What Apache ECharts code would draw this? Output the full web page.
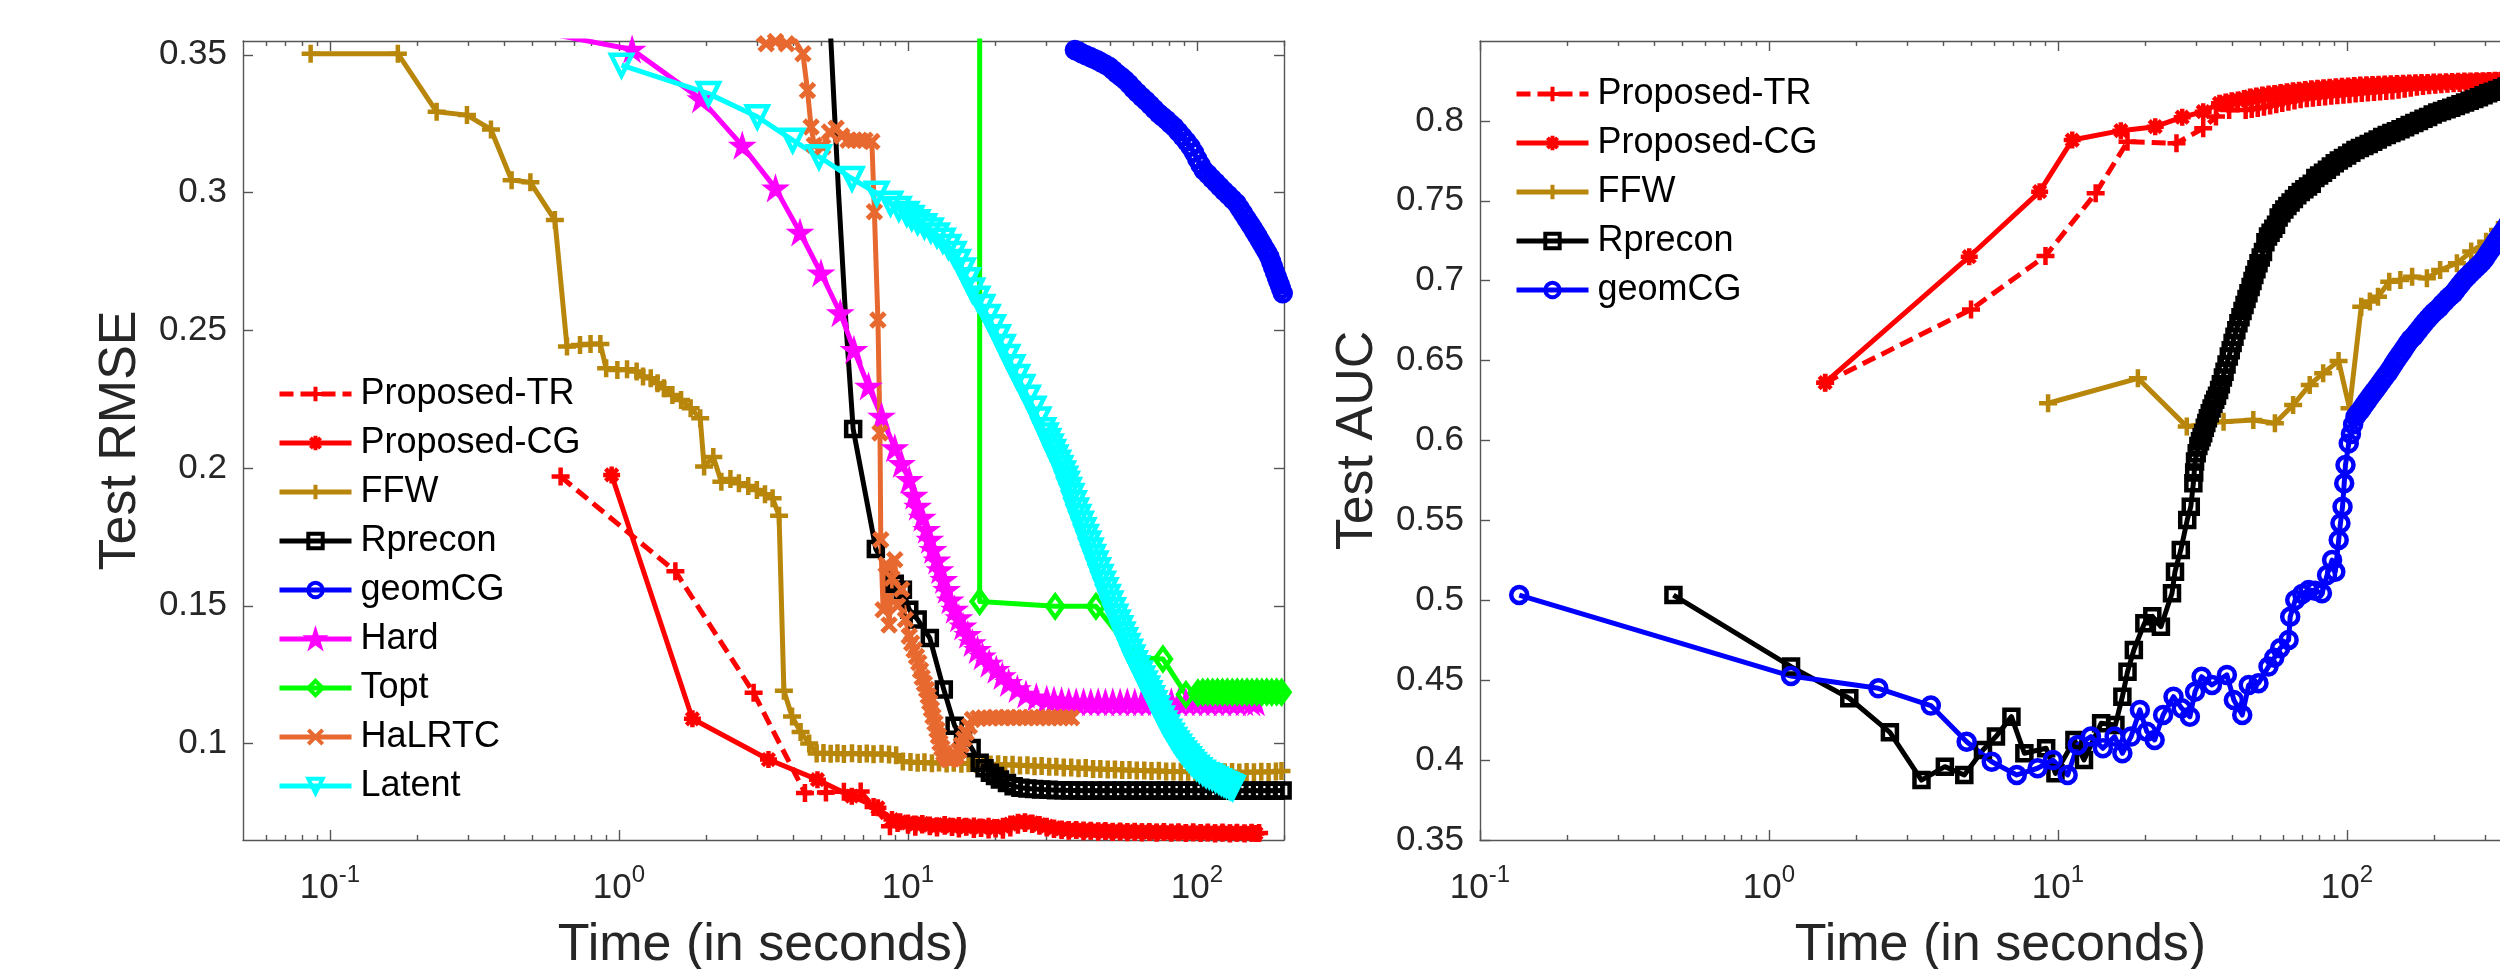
<!DOCTYPE html>
<html><head><meta charset="utf-8">
<script src="https://cdn.jsdelivr.net/npm/echarts@6/dist/echarts.min.js"></script>
<style>html,body{margin:0;padding:0;background:#fff;}#c{width:2500px;height:969px;}</style>
</head><body><div id="c"></div>
<script>
// ---------- tick values ----------
const X_MAJOR = [0.1, 1, 10, 100];
const X_MINOR_L = [0.06,0.07,0.08,0.09,0.2,0.3,0.4,0.5,0.6,0.7,0.8,0.9,2,3,4,5,6,7,8,9,20,30,40,50,60,70,80,90,200];
const X_MINOR_R = [0.2,0.3,0.4,0.5,0.6,0.7,0.8,0.9,2,3,4,5,6,7,8,9,20,30,40,50,60,70,80,90,200,300,400];
const Y_TICKS_L = [0.1,0.15,0.2,0.25,0.3,0.35];
const Y_TICKS_R = [0.35,0.4,0.45,0.5,0.55,0.6,0.65,0.7,0.75,0.8];
const NAMES_L = ['Proposed-TR','Proposed-CG','FFW','Rprecon','geomCG','Hard','Topt','HaLRTC','Latent'];
const NAMES_R = ['Proposed-TR','Proposed-CG','FFW','Rprecon','geomCG'];

// ---------- left plot: Test RMSE ([time, value]; third element 0 = no marker) ----------
const L_TR = [[0.628,0.1969],[1.567,0.1625],[2.923,0.1184],[4.40,0.0821],[5.2,0.0822],[6.0,0.0825],[6.86,0.0826],[7.6,0.0770],[8.66,0.0700],[9.2,0.0712],[10,0.0705],[10.6,0.0698],[11.2,0.0706],[11.9,0.0700],[12.6,0.0695],[13.4,0.0702],[14.2,0.0697],[15,0.0692],[15.9,0.0698],[16.9,0.0690],[17.9,0.0694],[19,0.0688],[20.1,0.0692],[21.3,0.0687],[22.6,0.0695],[24,0.0705],[25.4,0.0712],[26.9,0.0708],[28.5,0.0702],[30.2,0.0695],[32,0.0690],[34,0.0686],[36,0.0684],[38.2,0.0686],[40.5,0.0682],[42.9,0.0684],[45.5,0.0680],[48.2,0.0683],[51.1,0.0679],[54.2,0.0681],[57.4,0.0678],[60.9,0.0680],[64.5,0.0677],[68.4,0.0679],[72.5,0.0676],[76.8,0.0679],[81.5,0.0676],[86.3,0.0678],[91.5,0.0675],[97,0.0678],[103,0.0675],[109,0.0677],[115.5,0.0674],[122.5,0.0677],[130,0.0674],[137.5,0.0676],[146,0.0674],[154.5,0.0676],[164,0.0675]];
const L_CG = [[0.943,0.1975],[1.795,0.1090],[3.29,0.0942],[4.86,0.0869],[6.39,0.0809],[7.87,0.0767],[8.8,0.0724],[9.4,0.0716],[10,0.0712],[10.6,0.0708],[11.2,0.0710],[11.9,0.0704],[12.6,0.0702],[13.4,0.0706],[14.2,0.0700],[15,0.0703],[15.9,0.0698],[16.9,0.0701],[17.9,0.0697],[19,0.0700],[20.1,0.0695],[21.3,0.0700],[22.6,0.0708],[24,0.0714],[25.4,0.0716],[26.9,0.0712],[28.5,0.0706],[30.2,0.0700],[32,0.0694],[34,0.0690],[36,0.0688],[38.2,0.0685],[40.5,0.0686],[42.9,0.0683],[45.5,0.0684],[48.2,0.0681],[51.1,0.0682],[54.2,0.0680],[57.4,0.0681],[60.9,0.0679],[64.5,0.0680],[68.4,0.0678],[72.5,0.0679],[76.8,0.0677],[81.5,0.0678],[86.3,0.0677],[91.5,0.0677],[97,0.0676],[103,0.0677],[109,0.0676],[115.5,0.0676],[122.5,0.0675],[130,0.0676],[137.5,0.0675],[146,0.0675],[154.5,0.0675],[160,0.0674]];
const L_FFW = [[0.0857,0.3504],[0.1717,0.3504],[0.2339,0.3293],[0.2978,0.3281],[0.3605,0.3229],[0.425,0.3045],[0.4936,0.3037],[0.600,0.2900],[0.6607,0.2441],[0.733,0.2447],[0.797,0.2450],[0.862,0.2450],[0.9026,0.2362],[0.987,0.2356],[1.066,0.2359],[1.151,0.2350],[1.211,0.2332],[1.288,0.2326],[1.36,0.2308],[1.43,0.2290],[1.53,0.2265],[1.64,0.2247],[1.77,0.2217],[1.91,0.2181],[1.97,0.2006],[2.12,0.2040],[2.26,0.1950],[2.43,0.1960],[2.6,0.1945],[2.8,0.1935],[3.0,0.1920],[3.2,0.1905],[3.4,0.1890],[3.58,0.1827],[3.72,0.1192],[3.97,0.1098],[4.25,0.1042],[4.55,0.1000],[4.83,0.0964],[5.1,0.0966],[5.4,0.0963],[5.7,0.0965],[6.0,0.0962],[6.4,0.0965],[6.8,0.0962],[7.2,0.0964],[7.6,0.0961],[8.1,0.0963],[8.6,0.0960],[9.1,0.0958],[9.6,0.0935],[10.2,0.0933],[10.8,0.0930],[11.4,0.0932],[12.1,0.0929],[12.8,0.0931],[13.6,0.0928],[14.4,0.0930],[15.3,0.0927],[16.2,0.0929],[17.2,0.0926],[18.2,0.0927],[19.3,0.0924],[20.5,0.0925],[21.7,0.0922],[23,0.0923],[24.4,0.0920],[25.9,0.0921],[27.4,0.0918],[29,0.0919],[30.8,0.0916],[32.6,0.0916],[34.6,0.0913],[36.7,0.0913],[38.9,0.0910],[41.2,0.0911],[43.7,0.0908],[46.3,0.0908],[49.1,0.0906],[52,0.0906],[55.1,0.0904],[58.4,0.0904],[61.9,0.0902],[65.7,0.0902],[69.6,0.0900],[73.8,0.0901],[78.2,0.0899],[82.9,0.0899],[87.9,0.0898],[93.2,0.0898],[98.8,0.0897],[104.7,0.0898],[111,0.0896],[117.6,0.0897],[124.7,0.0896],[132.2,0.0897],[140.1,0.0895],[148.5,0.0897],[157.4,0.0896],[166.9,0.0898],[176.9,0.0897],[187.5,0.0899],[196,0.0900]];
const L_RP = [[5.2,0.42,0],[5.41,0.355,0],[5.75,0.30,0],[6.12,0.25,0],[6.46,0.2142],[7.74,0.1706],[9.0,0.1580],[9.6,0.1558],[10.1,0.1486],[10.8,0.1450],[11.9,0.1383],[13.3,0.1196],[14.5,0.1065],[15.5,0.1025],[16.6,0.0984],[17.7,0.0930],[18.4,0.0910],[19.2,0.0894],[20,0.0882],[20.8,0.0870],[22,0.0857],[23.2,0.0845],[24.5,0.0840],[25.9,0.0837],[27.3,0.0835],[28.9,0.0833],[30.7,0.0832],[32.5,0.0831],[34.5,0.0831],[36.5,0.0830],[38.7,0.0830],[41,0.0829],[43.5,0.0830],[46.1,0.0829],[48.9,0.0830],[51.8,0.0829],[54.9,0.0830],[58.2,0.0829],[61.7,0.0830],[65.4,0.0829],[69.3,0.0830],[73.5,0.0829],[77.9,0.0830],[82.6,0.0829],[87.5,0.0830],[92.8,0.0829],[98.3,0.0830],[104.2,0.0829],[110.5,0.0830],[117.1,0.0829],[124.1,0.0830],[131.6,0.0829],[139.5,0.0830],[147.8,0.0829],[156.7,0.0830],[166.1,0.0829],[176.1,0.0830],[186.6,0.0829],[197.8,0.0830]];
const L_GEO = [[37.8,0.3517],[38.9,0.3512],[40,0.3505],[41.3,0.3498],[42.7,0.3492],[43.9,0.3486],[45.2,0.3480],[46.5,0.3473],[48.1,0.3465],[49.8,0.3456],[51.3,0.3444],[52.8,0.3432],[54.6,0.3420],[56.4,0.3408],[58.2,0.3394],[60.1,0.3378],[62.2,0.3362],[64.4,0.3347],[66.6,0.3333],[68.9,0.3318],[71.2,0.3302],[73.7,0.3287],[76.0,0.3275],[78.5,0.3263],[80.9,0.3250],[83.4,0.3238],[86.2,0.3221],[89.0,0.3203],[92.0,0.3185],[95.0,0.3166],[97.6,0.3145],[100.2,0.3122],[102.8,0.3101],[105.5,0.3081],[109,0.3066],[112.5,0.3051],[116.2,0.3036],[120,0.3021],[124,0.3006],[128.3,0.2991],[132.6,0.2976],[137,0.2961],[140.6,0.2943],[144.3,0.2925],[148.1,0.2906],[152,0.2888],[155.2,0.2873],[158.5,0.2858],[161.7,0.2843],[165,0.2827],[168.2,0.2812],[171.4,0.2797],[174.7,0.2782],[178,0.2767],[180.6,0.2749],[183.3,0.2730],[186,0.2712],[188.7,0.2694],[191,0.2679],[193.3,0.2665],[195.6,0.2650],[198,0.2634]];
const L_HARD = [[0.62,0.357],[1.11,0.3519],[1.92,0.3339],[2.67,0.3170],[3.48,0.3015],[4.23,0.2855],[5.0,0.2707],[5.83,0.2562],[6.5,0.2429],[7.3,0.2296],[8.1,0.2187],[9.0,0.2072],[9.5,0.2015],[10.1,0.1957],[10.5,0.1900],[10.8,0.1860],[11.2,0.1820],[11.6,0.1776],[11.9,0.1740],[12.2,0.1703],[12.6,0.1665],[12.9,0.1630],[13.3,0.1594],[13.6,0.1558],[14.0,0.1520],[14.5,0.1486],[15.0,0.1455],[15.5,0.1425],[16.1,0.1395],[16.7,0.1365],[17.4,0.1340],[18.1,0.1317],[19.1,0.1290],[20.2,0.1268],[21.2,0.1245],[22.3,0.1220],[23.9,0.1198],[25.6,0.1178],[27.8,0.1168],[30.2,0.1160],[32,0.1156],[34,0.1153],[36,0.1151],[38.2,0.1150],[40.5,0.1150],[42.9,0.1149],[45.5,0.1150],[48.2,0.1149],[51.1,0.1150],[54.2,0.1149],[57.4,0.1150],[60.9,0.1149],[64.5,0.1150],[68.4,0.1149],[72.5,0.1150],[76.8,0.1149],[81.5,0.1150],[86.3,0.1149],[91.5,0.1150],[97,0.1149],[103,0.1150],[109,0.1149],[115.5,0.1150],[122.5,0.1149],[130,0.1150],[137.5,0.1149],[146,0.1150],[154.5,0.1149],[160,0.1150]];
const L_TOPT = [[17.7,0.60,0],[17.7,0.1516],[32.3,0.1498],[44.7,0.1498],[62,0.1311],[76.2,0.1307],[91.6,0.1178],[100.7,0.1184],[104.7,0.1186],[108.9,0.1187],[113.3,0.1186],[117.8,0.1187],[122.5,0.1186],[127.4,0.1187],[132.5,0.1186],[137.8,0.1187],[143.3,0.1186],[149,0.1187],[155,0.1186],[161.2,0.1187],[167.7,0.1186],[174.4,0.1187],[181.4,0.1186],[188.6,0.1187],[196.2,0.1186]];
const L_HAL = [[3.0,0.3560],[3.23,0.3540],[3.48,0.3548],[3.80,0.3540],[4.07,0.3552],[4.33,0.3504],[4.49,0.3370],[4.62,0.3238],[4.74,0.3172],[5.07,0.3166],[5.35,0.3220],[5.64,0.3233],[5.9,0.3205],[6.2,0.3190],[6.5,0.3190],[6.8,0.3190],[7.1,0.3190],[7.5,0.3185],[7.65,0.2930],[7.87,0.2537],[8.0,0.2127],[8.05,0.1740],[8.2,0.1486],[8.4,0.1650],[8.6,0.1430],[8.8,0.1600],[9.0,0.1667],[9.2,0.1500],[9.5,0.1560],[9.8,0.1450],[10.1,0.1390],[10.3,0.1365],[10.5,0.1340],[10.7,0.1316],[10.9,0.1293],[11.05,0.1266],[11.2,0.1240],[11.4,0.1218],[11.6,0.1196],[11.75,0.1173],[11.9,0.1150],[12.05,0.1125],[12.2,0.1099],[12.4,0.1075],[12.6,0.1050],[12.75,0.1027],[12.9,0.1003],[13.1,0.0984],[13.3,0.0965],[13.55,0.0953],[13.8,0.0942],[14.0,0.0943],[14.2,0.0945],[14.45,0.0949],[14.7,0.0954],[15.0,0.0974],[15.3,0.0995],[15.6,0.1017],[15.9,0.1039],[16.3,0.1063],[16.7,0.1087],[17.5,0.1092],[18.3,0.1094],[19.2,0.1093],[20.1,0.1095],[21.1,0.1094],[22.1,0.1095],[23.2,0.1094],[24.3,0.1095],[25.5,0.1094],[26.7,0.1095],[28,0.1094],[29.3,0.1095],[30.7,0.1094],[32.2,0.1095],[33.7,0.1094],[35.3,0.1095],[36.8,0.1094]];
const L_LAT = [[1.02,0.3462],[2.04,0.3359],[3.01,0.3275],[3.99,0.3190],[4.92,0.3130],[6.4,0.3051],[7.8,0.2997],[8.7,0.2961],[9.3,0.2942],[9.9,0.2924],[10.3,0.2909],[10.8,0.2894],[11.4,0.2879],[12.0,0.2864],[12.6,0.2846],[13.2,0.2827],[13.8,0.2804],[14.4,0.2779],[14.9,0.2750],[15.5,0.2719],[16.1,0.2683],[16.7,0.2646],[17.4,0.2616],[18.1,0.2586],[18.9,0.2550],[19.7,0.2513],[20.5,0.2477],[21.3,0.2441],[22.1,0.2405],[23.0,0.2368],[23.9,0.2332],[24.9,0.2296],[26.0,0.2257],[27.2,0.2217],[28.3,0.2178],[29.4,0.2139],[30.0,0.2120],[30.6,0.2100],[31.2,0.2080],[31.8,0.2060],[32.4,0.2040],[33.1,0.2021],[33.7,0.2002],[34.4,0.1982],[35.0,0.1963],[35.5,0.1945],[36.1,0.1922],[36.8,0.1900],[37.5,0.1874],[38.2,0.1848],[38.9,0.1824],[39.7,0.1800],[40.5,0.1776],[41.3,0.1752],[42.1,0.1728],[42.9,0.1703],[43.7,0.1679],[44.6,0.1655],[45.5,0.1631],[46.4,0.1606],[47.3,0.1582],[48.3,0.1558],[49.2,0.1534],[50.2,0.1510],[51.2,0.1486],[52.2,0.1462],[53.2,0.1441],[54.3,0.1420],[55.3,0.1398],[56.4,0.1377],[57.5,0.1356],[58.7,0.1335],[59.8,0.1314],[61.0,0.1293],[62.2,0.1275],[63.5,0.1256],[64.7,0.1238],[66.0,0.1220],[67.3,0.1202],[68.6,0.1184],[69.9,0.1166],[71.3,0.1148],[72.7,0.1130],[74.1,0.1111],[75.6,0.1093],[77.1,0.1075],[78.6,0.1060],[80.2,0.1045],[81.8,0.1030],[83.4,0.1015],[85.0,0.1002],[86.7,0.0990],[88.4,0.0978],[90.2,0.0966],[92.0,0.0955],[93.8,0.0945],[95.6,0.0934],[97.5,0.0924],[99.7,0.0914],[102,0.0905],[104.8,0.0896],[107.6,0.0888],[110.3,0.0883],[113,0.0878],[116,0.0871],[119,0.0865],[121.5,0.0860],[124,0.0855],[126.5,0.0851],[129,0.0847],[131,0.0843],[133,0.0840]];

// ---------- right plot: Test AUC ----------
const R_TR = [[1.564,0.6362],[5.0,0.6820],[9.05,0.7155],[13.5,0.7547],[17.4,0.7870],[25.7,0.7860],[31.8,0.7954],[35.2,0.8027],[39.1,0.8068],[44.6,0.8068],[46.8,0.8074],[49.1,0.8080],[51.6,0.8088],[54.2,0.8096],[56.9,0.8104],[59.7,0.8112],[62.7,0.8120],[65.8,0.8128],[69.1,0.8136],[72.6,0.8141],[76.2,0.8145],[80,0.8149],[84,0.8153],[88.2,0.8157],[92.6,0.8160],[97.2,0.8163],[102,0.8167],[107.1,0.8171],[112.5,0.8174],[118.1,0.8178],[124,0.8181],[130.2,0.8184],[136.7,0.8187],[143.6,0.8190],[150.8,0.8195],[158.3,0.8201],[166.2,0.8208],[174.5,0.8214],[183.2,0.8219],[192.4,0.8223],[202,0.8227],[212,0.8230],[222.6,0.8233],[233.8,0.8235],[245.5,0.8237],[257.7,0.8239],[270.6,0.8241],[284.1,0.8243],[298.3,0.8245],[313.2,0.8247],[328.9,0.8249],[345.3,0.8251],[362.6,0.8253],[380.7,0.8255],[399.7,0.8256]];
const R_CG = [[1.564,0.6362],[4.93,0.7150],[8.64,0.7557],[11.2,0.7880],[16.5,0.7939],[21.7,0.7964],[26.9,0.8023],[31.8,0.8058],[36.2,0.8110],[38,0.8118],[39.9,0.8126],[41.9,0.8131],[44,0.8140],[46.2,0.8150],[48.5,0.8156],[50.9,0.8162],[53.5,0.8168],[56.1,0.8172],[58.9,0.8178],[61.9,0.8183],[65,0.8188],[68.2,0.8192],[71.6,0.8196],[75.2,0.8201],[79,0.8205],[82.9,0.8208],[87.1,0.8211],[91.4,0.8214],[96,0.8217],[100.8,0.8219],[105.8,0.8222],[111.1,0.8224],[116.7,0.8226],[122.5,0.8228],[128.6,0.8230],[135,0.8231],[141.8,0.8233],[148.9,0.8234],[156.3,0.8236],[164.2,0.8237],[172.4,0.8238],[181,0.8240],[190,0.8241],[199.5,0.8243],[209.5,0.8244],[220,0.8245],[231,0.8247],[242.5,0.8248],[254.6,0.8249],[267.4,0.8250],[280.7,0.8251],[294.8,0.8252],[309.5,0.8253],[325,0.8254],[341,0.8255],[358,0.8256],[376,0.8257],[395,0.8258]];
const R_FFW = [[9.24,0.6233],[18.9,0.6389],[27.9,0.6087],[37.4,0.6118],[47.4,0.6128],[56.3,0.6108],[65.1,0.6222],[74.3,0.6348],[82.7,0.6421],[93.5,0.6498],[102,0.6202],[112,0.6837],[120,0.6870],[128,0.6900],[140,0.6994],[153,0.7004],[168,0.7025],[189,0.7015],[210,0.7067],[240,0.7109],[269,0.7182],[303,0.7244],[333,0.7317],[370,0.7380],[400,0.7420]];
const R_RP = [[0.467,0.5033],[1.192,0.4585],[1.896,0.4387],[2.62,0.4174],[3.37,0.3875],[4.06,0.3959],[4.74,0.3907],[5.5,0.4063],[6.1,0.4147],[6.9,0.4272],[7.65,0.4043],[9.1,0.4074],[9.8,0.3917],[11.4,0.4126],[12.3,0.4001],[14.1,0.4230],[15.8,0.4220],[16.7,0.4397],[17.4,0.4553],[18.3,0.4689],[19.9,0.4856],[21.2,0.4900],[22.7,0.4835],[24.8,0.5044],[25.4,0.5179],[26.6,0.5315],[28.0,0.5503],[28.8,0.5586],[29.4,0.5732],[29.6,0.5800],[29.8,0.5868],[30.2,0.5920],[30.6,0.5965],[31.0,0.5995],[31.4,0.6020],[31.8,0.6045],[32.2,0.6080],[32.6,0.6110],[33.0,0.6140],[33.5,0.6170],[34.0,0.6200],[34.5,0.6230],[35.0,0.6255],[35.5,0.6280],[36.1,0.6316],[36.6,0.6352],[37.2,0.6395],[37.7,0.6430],[38.3,0.6475],[39.0,0.6525],[39.6,0.6565],[40.2,0.6610],[40.8,0.6650],[41.4,0.6690],[42.1,0.6733],[42.8,0.6772],[43.5,0.6810],[44.2,0.6848],[44.9,0.6885],[45.6,0.6921],[46.4,0.6960],[47.1,0.6998],[47.8,0.7035],[48.6,0.7072],[49.4,0.7109],[50.3,0.7145],[51.2,0.7180],[52.2,0.7240],[53.3,0.7276],[54.4,0.7300],[55.6,0.7325],[56.8,0.7350],[58.0,0.7395],[59.3,0.7422],[60.7,0.7445],[62.2,0.7468],[63.8,0.7490],[65.5,0.7512],[67.3,0.7535],[69.2,0.7555],[71.2,0.7572],[73.3,0.7590],[75.5,0.7607],[77.7,0.7643],[80.1,0.7658],[82.6,0.7675],[85.2,0.7695],[87.9,0.7715],[90.7,0.7735],[93.7,0.7752],[96.8,0.7768],[100.1,0.7784],[103.5,0.7800],[107,0.7818],[110.8,0.7830],[114.8,0.7843],[118.9,0.7856],[123.2,0.7869],[127.7,0.7884],[132.4,0.7899],[137.3,0.7912],[142.4,0.7924],[147.7,0.7936],[153.2,0.7948],[158.9,0.7960],[164.8,0.7974],[171,0.7987],[177.4,0.8000],[184,0.8013],[190.9,0.8025],[198,0.8040],[205.4,0.8052],[213.1,0.8062],[221.1,0.8073],[229.4,0.8083],[238,0.8093],[246.9,0.8104],[256.2,0.8115],[265.8,0.8126],[275.8,0.8137],[286.1,0.8148],[296.8,0.8160],[307.9,0.8173],[319.5,0.8183],[331.4,0.8194],[343.8,0.8205],[356.7,0.8215],[370,0.8225],[383.9,0.8235],[398.3,0.8245]];
const R_GEO = [[0.1367,0.5033],[1.192,0.4526],[2.39,0.4449],[3.63,0.4341],[4.83,0.4115],[5.9,0.3990],[7.2,0.3907],[8.5,0.3949],[9.6,0.4001],[10.8,0.3907],[11.7,0.4095],[13.0,0.4147],[14.3,0.4074],[15.7,0.4147],[16.7,0.4043],[17.9,0.4147],[19.2,0.4314],[20.3,0.4178],[21.6,0.4126],[23.1,0.4282],[25.1,0.4397],[26.8,0.4324],[28.6,0.4272],[29.8,0.4428],[31.4,0.4522],[34.1,0.4470],[38.4,0.4533],[40.6,0.4376],[43.4,0.4282],[45.7,0.4470],[49.4,0.4481],[53.5,0.4585],[56,0.4640],[58.7,0.4700],[62.8,0.4752],[63.6,0.4897],[66.2,0.5002],[70,0.5040],[73.7,0.5065],[77.5,0.5060],[81.9,0.5044],[85.3,0.5158],[88.8,0.5252],[91.1,0.5179],[93.6,0.5377],[94.9,0.5482],[96.5,0.5586],[97.8,0.5732],[98.8,0.5847],[101.4,0.5982],[103.2,0.6040],[105,0.6100],[107,0.6149],[109.2,0.6170],[111.5,0.6190],[113.8,0.6212],[116,0.6235],[118,0.6254],[120.7,0.6278],[123.5,0.6302],[126.4,0.6326],[129.4,0.6350],[132.4,0.6375],[135.5,0.6400],[138.6,0.6424],[141.8,0.6450],[145,0.6478],[148.2,0.6505],[151.5,0.6530],[155,0.6556],[158.6,0.6582],[162.2,0.6608],[166,0.6634],[169.8,0.6650],[173.7,0.6672],[177.7,0.6695],[181.8,0.6718],[186,0.6740],[190.3,0.6760],[194.7,0.6780],[199.2,0.6800],[203.8,0.6815],[208.5,0.6830],[213.3,0.6852],[218.2,0.6870],[223.3,0.6890],[228.4,0.6906],[233.7,0.6921],[239.1,0.6945],[244.6,0.6968],[250.2,0.6990],[256,0.7012],[261.9,0.7030],[267.9,0.7048],[274.1,0.7065],[280.4,0.7082],[286.9,0.7100],[293.5,0.7118],[300.3,0.7140],[307.2,0.7168],[314.3,0.7195],[321.5,0.7222],[328.9,0.7250],[336.5,0.7275],[344.3,0.7300],[352.3,0.7325],[360.4,0.7352],[368.7,0.7378],[377.2,0.7405],[385.9,0.7430],[394.8,0.7458],[400,0.7475]];

// ---------- styling ----------
const FONT = '"Liberation Sans", Arial, Helvetica, sans-serif';
const AX = '#555555';
const TXT = '#262626';
const PLUS = 'path://M0,5L10,5M5,0L5,10';
const AST = 'path://M0,5L10,5M5,0L5,10M1.46,1.46L8.54,8.54M1.46,8.54L8.54,1.46';
const XM = 'path://M0,0L10,10M0,10L10,0';
const PENT = 'path://M5,0L6.18,3.62L10,3.62L6.91,5.86L8.09,9.47L5,7.24L1.91,9.47L3.09,5.86L0,3.62L3.82,3.62Z';
const HOLLOW = 'rgba(255,255,255,0)';
const LW = 5;
const STY = {
  'Proposed-TR': {c:'#FF0000', sym:PLUS, size:18, fill:'#FF0000', bw:4.5, dash:[14,7]},
  'Proposed-CG': {c:'#FF0000', sym:AST, size:17, fill:'#FF0000', bw:4.5},
  'FFW': {c:'#B8860B', sym:PLUS, size:18, fill:'#B8860B', bw:4.5},
  'Rprecon': {c:'#000000', sym:'rect', size:14, fill:HOLLOW, bw:4.5},
  'geomCG': {c:'#0000FF', sym:'circle', size:16, fill:HOLLOW, bw:4.5},
  'Hard': {c:'#FF00FF', sym:PENT, size:20, fill:'#FF00FF', bw:3},
  'Topt': {c:'#00FF00', sym:'diamond', size:[16,22], fill:HOLLOW, bw:4.5},
  'HaLRTC': {c:'#E8692F', sym:XM, size:14, fill:'#E8692F', bw:5},
  'Latent': {c:'#00FFFF', sym:'triangle', size:21, fill:HOLLOW, bw:4.5, rot:180}
};

function pts(arr){ return arr.map(p => (p.length > 2 && p[2] === 0) ? {value:[p[0],p[1]], symbol:'none'} : [p[0],p[1]]); }
function mk(name, data, xi, yi){
  const s = STY[name];
  const ls = {color:s.c, width:LW, type:s.dash || 'solid', cap:'butt', join:'round'};
  return {name, type:'line', xAxisIndex:xi, yAxisIndex:yi, data:pts(data),
    symbol:s.sym, symbolSize:s.size, symbolRotate:s.rot || 0, showSymbol:true,
    lineStyle:ls,
    itemStyle:{color:s.fill, borderColor:s.c, borderWidth:s.bw},
    emphasis:{disabled:true, lineStyle:ls}, animation:false, clip:true, silent:true};
}

const tickLine = {color:AX, width:1.4};
function xAxes(grid, min, max, minors){
  const base = {type:'log', logBase:10, gridIndex:grid, min, max, silent:true,
    splitLine:{show:false}, axisLine:{show:false}, axisTick:{show:false}, axisLabel:{show:false}};
  return [
    Object.assign({}, base, {position:'bottom',
      axisLine:{show:true, onZero:false, lineStyle:tickLine},
      axisTick:{show:true, inside:true, length:10, customValues:X_MAJOR, lineStyle:tickLine},
      axisLabel:{show:true, customValues:X_MAJOR, margin:23, fontSize:35, fontFamily:FONT, color:TXT, lineHeight:50,
        formatter: v => { const l = Math.log10(v), e = Math.round(l); return Math.abs(l - e) < 1e-6 ? '10{s|' + e + '}' : ''; },
        rich:{s:{fontSize:24, fontFamily:FONT, color:TXT, verticalAlign:'top', lineHeight:24}}},
      name:'Time (in seconds)', nameLocation:'middle', nameGap:80,
      nameTextStyle:{fontSize:52, fontFamily:FONT, color:TXT}}),
    Object.assign({}, base, {position:'bottom',
      axisTick:{show:true, inside:true, length:5, customValues:minors, lineStyle:tickLine}}),
    Object.assign({}, base, {position:'top',
      axisLine:{show:true, onZero:false, lineStyle:tickLine},
      axisTick:{show:true, inside:true, length:10, customValues:X_MAJOR, lineStyle:tickLine}}),
    Object.assign({}, base, {position:'top',
      axisTick:{show:true, inside:true, length:5, customValues:minors, lineStyle:tickLine}})
  ];
}
function yAxes(grid, min, max, ticks, name){
  const fmt = v => String(Math.round(v * 1000) / 1000);
  return [
    {type:'value', gridIndex:grid, min, max, position:'left', silent:true, splitLine:{show:false},
      axisLine:{show:true, onZero:false, lineStyle:tickLine},
      axisTick:{show:true, inside:true, length:10, customValues:ticks, lineStyle:tickLine},
      axisLabel:{show:true, customValues:ticks, margin:16, fontSize:35, fontFamily:FONT, color:TXT, formatter:fmt},
      name, nameLocation:'middle', nameGap:96, nameTextStyle:{fontSize:52, fontFamily:FONT, color:TXT}},
    {type:'value', gridIndex:grid, min, max, position:'right', silent:true, splitLine:{show:false},
      axisLine:{show:true, onZero:false, lineStyle:tickLine},
      axisTick:{show:true, inside:true, length:10, customValues:ticks, lineStyle:tickLine},
      axisLabel:{show:false}}
  ];
}
function legend(left, top, names){
  return {show:true, orient:'vertical', left, top, padding:0, itemWidth:72, itemHeight:18, itemGap:13,
    selectedMode:false, data:names, inactiveColor:'#000',
    lineStyle:{width:LW}, itemStyle:{borderWidth:4},
    textStyle:{fontSize:36, fontFamily:FONT, color:'#000', lineHeight:36, padding:[0,0,0,4]}};
}

const series = [
  mk('Proposed-TR', L_TR, 0, 0), mk('Proposed-CG', L_CG, 0, 0), mk('FFW', L_FFW, 0, 0),
  mk('Rprecon', L_RP, 0, 0), mk('geomCG', L_GEO, 0, 0), mk('Hard', L_HARD, 0, 0),
  mk('Topt', L_TOPT, 0, 0), mk('HaLRTC', L_HAL, 0, 0), mk('Latent', L_LAT, 0, 0),
  mk('Proposed-TR', R_TR, 4, 2), mk('Proposed-CG', R_CG, 4, 2), mk('FFW', R_FFW, 4, 2),
  mk('Rprecon', R_RP, 4, 2), mk('geomCG', R_GEO, 4, 2)
];

const chart = echarts.init(document.getElementById('c'), null, {renderer:'canvas'});
chart.setOption({
  animation:false,
  backgroundColor:'#ffffff',
  grid:[
    {left:243, top:41, width:1041, height:799, outerBoundsMode:'none', containLabel:false},
    {left:1480, top:41, width:1041, height:799, outerBoundsMode:'none', containLabel:false}
  ],
  xAxis: xAxes(0, 0.05, 200, X_MINOR_L).concat(xAxes(1, 0.1, 400, X_MINOR_R)),
  yAxis: yAxes(0, 0.065, 0.355, Y_TICKS_L, 'Test RMSE').concat(yAxes(1, 0.35, 0.85, Y_TICKS_R, 'Test AUC')),
  legend:[legend(277, 376, NAMES_L), legend(1514, 76, NAMES_R)],
  series
});
</script></body></html>
